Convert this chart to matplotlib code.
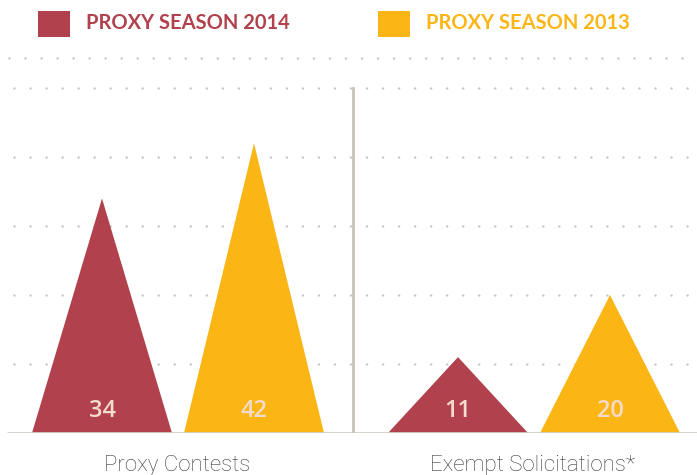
import matplotlib
matplotlib.use("Agg")
import matplotlib.pyplot as plt
from matplotlib.patches import Polygon, Rectangle
import numpy as np

categories = ["Proxy Contests", "Exempt Solicitations*"]
series_names = ["PROXY SEASON 2014", "PROXY SEASON 2013"]
values_2014 = [34, 11]
values_2013 = [42, 20]
colors = ["#B0414D", "#FBB616"]

W, H = 697, 475
fig = plt.figure(figsize=(W / 100, H / 100), dpi=100)

base_px = 433
top_px = 57
ymax = 54.5
ax = fig.add_axes([0, (H - base_px) / H, 1, (base_px - top_px) / H])
ax.set_xlim(0, W)
ax.set_ylim(0, ymax)
ax.axis("off")

grid_col = "#c6c6c6"
dot_style = dict(color=grid_col, lw=1.8, dash_capstyle="round", dashes=(0.01, 6.4))
for g in [10, 20, 30, 40, 50]:
    ax.plot([14, W], [g, g], **dot_style, zorder=1)
ax.plot([9, W], [ymax - 0.15, ymax - 0.15], **dot_style, zorder=1, clip_on=False)

# baseline and divider
ax.plot([7, W], [0, 0], color="#d3cec8", lw=2, zorder=3, solid_capstyle="butt")
ax.plot([353, 353], [0, 50], color="#c9c2b8", lw=2, zorder=3)

group_centers = [177, 533]
offsets = [-75, 77]
half_w = 70
for gi, c in enumerate(group_centers):
    for si, vals in enumerate([values_2014, values_2013]):
        xc = c + offsets[si]
        v = vals[gi]
        tri = Polygon([[xc - half_w, 0], [xc + half_w, 0], [xc, v]], closed=True,
                      facecolor=colors[si], edgecolor="none", zorder=2)
        ax.add_patch(tri)
        ax.text(xc, 3.2, str(v), ha="center", va="center", fontsize=17,
                color="#f3dccd", family=["Open Sans", "DejaVu Sans"],
                weight="semibold", zorder=4)

for c, lab in zip(group_centers, categories):
    fig.text(c / W, 1 - 465 / H, lab, ha="center", va="center", fontsize=16,
             color="#3c3c3c", family=["Roboto", "DejaVu Sans"], weight="light")

# legend
leg_x = [38, 378]
for lx, name, col in zip(leg_x, series_names, colors):
    fig.patches.append(Rectangle((lx / W, 1 - 37 / H), 32 / W, 26 / H,
                                 transform=fig.transFigure, facecolor=col,
                                 edgecolor="none"))
    fig.text((lx + 48) / W, 1 - 23 / H, name, ha="left", va="center",
             fontsize=14.5, color=col, family=["Lato", "DejaVu Sans"], weight="bold")

fig.savefig("out.png", dpi=100)
